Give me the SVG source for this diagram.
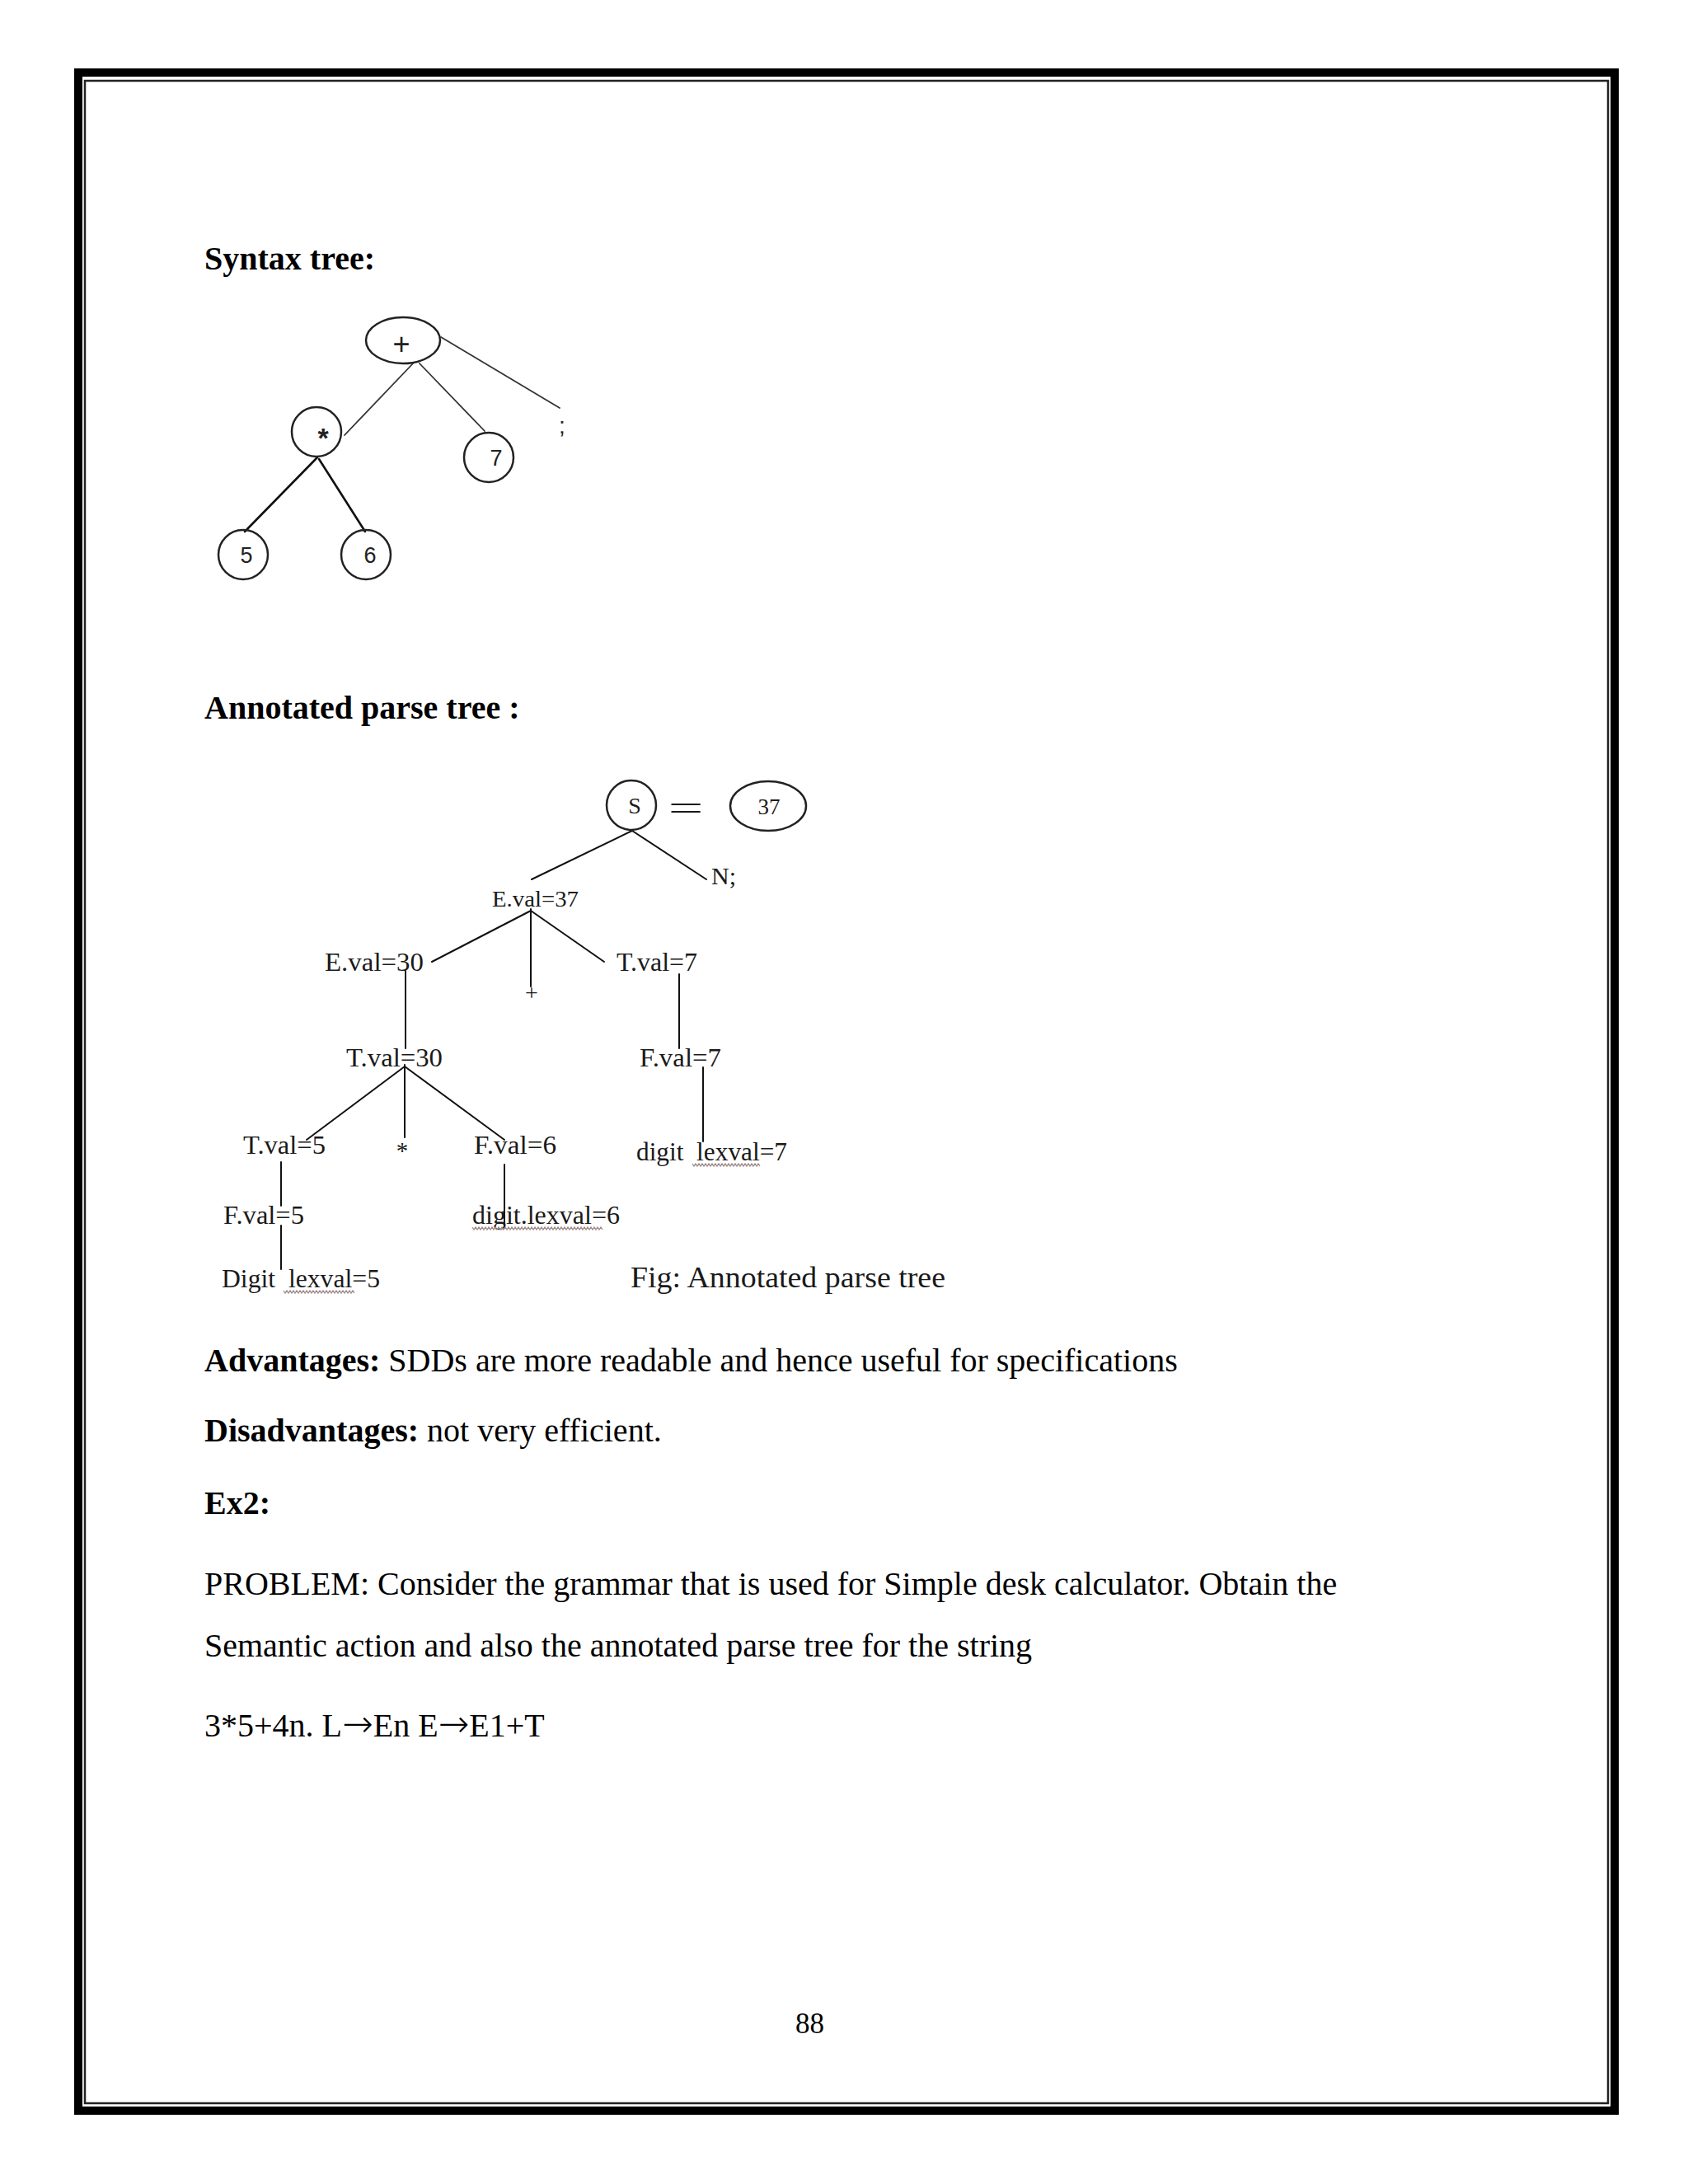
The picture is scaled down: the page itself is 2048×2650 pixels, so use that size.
<svg xmlns="http://www.w3.org/2000/svg" width="2048" height="2650" viewBox="0 0 2048 2650">
<style>
.body{font-family:"Liberation Serif","Times New Roman",serif;font-size:40px;fill:#000}
.b{font-weight:bold}
.arr{font-family:"DejaVu Sans",sans-serif;font-size:45px;font-weight:200}
.lab{font-family:"Liberation Serif","Times New Roman",serif;font-size:31px;fill:#1a1a1a}
.dig{font-family:"Liberation Sans",Arial,sans-serif;font-size:27px;fill:#222}
.node{fill:none;stroke:#222;stroke-width:2.5}
.edge{stroke:#111;stroke-width:2;fill:none;stroke-linecap:round}
.thin{stroke:#333;stroke-width:1.8}
.sq{fill:none;stroke:#a08a8a;stroke-width:1.3}
</style>
<rect x="0" y="0" width="2048" height="2650" fill="#fff"/>
<g id="border">
<rect x="95" y="88" width="1864" height="2473" fill="none" stroke="#000" stroke-width="10"/>
<rect x="103" y="98" width="1848" height="2454" fill="none" stroke="#222" stroke-width="2.5"/>
</g>
<g id="text">
<text class="body b" x="248" y="327">Syntax tree:</text>
<text class="body b" x="248" y="872">Annotated parse tree :</text>
<text class="body" x="248" y="1664"><tspan class="b">Advantages:</tspan> SDDs are more readable and hence useful for specifications</text>
<text class="body" x="248" y="1749"><tspan class="b">Disadvantages:</tspan> not very efficient.</text>
<text class="body b" x="248" y="1837">Ex2:</text>
<text class="body" x="248" y="1935">PROBLEM: Consider the grammar that is used for Simple desk calculator. Obtain the</text>
<text class="body" x="248" y="2010">Semantic action and also the annotated parse tree for the string</text>
<text class="body" x="248" y="2107">3*5+4n. L<tspan class="arr">→</tspan>En E<tspan class="arr">→</tspan>E1+T</text>
<text class="body" x="965" y="2467" style="font-size:35px">88</text>
</g>
<g id="connectors">
<line class="edge thin" x1="502" y1="440" x2="418" y2="528"/>
<line class="edge thin" x1="509" y1="441" x2="588" y2="523"/>
<line class="edge thin" x1="535" y1="409" x2="679" y2="495"/>
<line class="edge" style="stroke-width:2.6" x1="385" y1="555" x2="297" y2="645"/>
<line class="edge" style="stroke-width:2.6" x1="387" y1="557" x2="443" y2="645"/>
<line class="edge" x1="767" y1="1008" x2="645" y2="1067"/>
<line class="edge" x1="767" y1="1008" x2="857" y2="1067"/>
<line class="edge" x1="644" y1="1105" x2="524" y2="1167"/>
<line class="edge" x1="644" y1="1103" x2="644" y2="1197"/>
<line class="edge" x1="644" y1="1105" x2="733" y2="1167"/>
<line class="edge" x1="492" y1="1178" x2="492" y2="1272"/>
<line class="edge" x1="824" y1="1182" x2="824" y2="1272"/>
<line class="edge" x1="491" y1="1294" x2="372" y2="1383"/>
<line class="edge" x1="491" y1="1292" x2="491" y2="1380"/>
<line class="edge" x1="491" y1="1294" x2="612" y2="1383"/>
<line class="edge" x1="853" y1="1295" x2="853" y2="1385"/>
<line class="edge" x1="341" y1="1410" x2="341" y2="1463"/>
<line class="edge" x1="612" y1="1413" x2="612" y2="1490"/>
<line class="edge" x1="341" y1="1487" x2="341" y2="1540"/>
</g>
<g id="syntax-tree">
<g id="st-plus"><ellipse class="node" cx="489" cy="413" rx="45" ry="28"/><text class="dig" x="487" y="430" text-anchor="middle" style="font-size:36px">+</text></g>
<g id="st-times"><circle class="node" cx="384" cy="524" r="30"/><text class="dig b" x="392" y="543" text-anchor="middle" style="font-size:34px">*</text></g>
<g id="st-7"><circle class="node" cx="593" cy="555" r="30"/><text class="dig" x="602" y="565" text-anchor="middle">7</text></g>
<g id="st-5"><circle class="node" cx="295" cy="673" r="30"/><text class="dig" x="299" y="683" text-anchor="middle">5</text></g>
<g id="st-6"><circle class="node" cx="444" cy="673" r="30"/><text class="dig" x="449" y="683" text-anchor="middle">6</text></g>
<g id="st-semi"><text class="dig" x="682" y="526" text-anchor="middle" style="font-size:28px">;</text></g>
</g>
<g id="annotated-tree">
<g id="n-S"><circle class="node" cx="766" cy="977" r="30"/><text class="lab" x="770" y="987" text-anchor="middle" style="font-size:28px">S</text></g>
<g id="n-eq"><text class="lab" transform="translate(832,994) scale(1.8,1)" text-anchor="middle" style="font-size:42px">=</text></g>
<g id="n-37"><ellipse class="node" cx="932" cy="978" rx="46" ry="30"/><text class="lab" x="933" y="988" text-anchor="middle" style="font-size:27px">37</text></g>
<g id="n-N"><text class="lab" x="863" y="1073" style="font-size:30px">N;</text></g>
<g id="n-E37"><text class="lab" x="597" y="1100" textLength="105" lengthAdjust="spacingAndGlyphs" style="font-size:28px">E.val=37</text></g>
<g id="n-E30"><text class="lab" x="394" y="1178" textLength="120" lengthAdjust="spacingAndGlyphs">E.val=30</text></g>
<g id="n-plus"><text class="lab" x="645" y="1214" text-anchor="middle" style="font-size:28px">+</text></g>
<g id="n-T7"><text class="lab" x="748" y="1178" textLength="98" lengthAdjust="spacingAndGlyphs">T.val=7</text></g>
<g id="n-T30"><text class="lab" x="420" y="1294" textLength="117" lengthAdjust="spacingAndGlyphs">T.val=30</text></g>
<g id="n-F7"><text class="lab" x="776" y="1294" textLength="99" lengthAdjust="spacingAndGlyphs">F.val=7</text></g>
<g id="n-T5"><text class="lab" x="295" y="1400" textLength="100" lengthAdjust="spacingAndGlyphs">T.val=5</text></g>
<g id="n-star"><text class="lab" x="488" y="1406" text-anchor="middle" style="font-size:29px">*</text></g>
<g id="n-F6"><text class="lab" x="575" y="1400" textLength="100" lengthAdjust="spacingAndGlyphs">F.val=6</text></g>
<g id="n-d7"><text class="lab" x="772" y="1408" textLength="183" lengthAdjust="spacingAndGlyphs" xml:space="preserve">digit  lexval=7</text>
<path class="sq" d="M840 1412 l2 3 l2 -3 l2 3 l2 -3 l2 3 l2 -3 l2 3 l2 -3 l2 3 l2 -3 l2 3 l2 -3 l2 3 l2 -3 l2 3 l2 -3 l2 3 l2 -3 l2 3 l2 -3 l2 3 l2 -3 l2 3 l2 -3 l2 3 l2 -3 l2 3 l2 -3 l2 3 l2 -3 l2 3 l2 -3 l2 3 l2 -3 l2 3 l2 -3 l2 3 l2 -3 l2 3 l2 -3 l2 3"/></g>
<g id="n-F5"><text class="lab" x="271" y="1485" textLength="98" lengthAdjust="spacingAndGlyphs">F.val=5</text></g>
<g id="n-d6"><text class="lab" x="573" y="1485" textLength="179" lengthAdjust="spacingAndGlyphs">digit.lexval=6</text>
<path class="sq" d="M573 1489 l2 3 l2 -3 l2 3 l2 -3 l2 3 l2 -3 l2 3 l2 -3 l2 3 l2 -3 l2 3 l2 -3 l2 3 l2 -3 l2 3 l2 -3 l2 3 l2 -3 l2 3 l2 -3 l2 3 l2 -3 l2 3 l2 -3 l2 3 l2 -3 l2 3 l2 -3 l2 3 l2 -3 l2 3 l2 -3 l2 3 l2 -3 l2 3 l2 -3 l2 3 l2 -3 l2 3 l2 -3 l2 3 l2 -3 l2 3 l2 -3 l2 3 l2 -3 l2 3 l2 -3 l2 3 l2 -3 l2 3 l2 -3 l2 3 l2 -3 l2 3 l2 -3 l2 3 l2 -3 l2 3 l2 -3 l2 3 l2 -3 l2 3 l2 -3 l2 3 l2 -3 l2 3 l2 -3 l2 3 l2 -3 l2 3 l2 -3 l2 3 l2 -3 l2 3 l2 -3 l2 3 l2 -3 l2 3"/></g>
<g id="n-d5"><text class="lab" x="269" y="1562" textLength="192" lengthAdjust="spacingAndGlyphs" xml:space="preserve">Digit  lexval=5</text>
<path class="sq" d="M344 1566 l2 3 l2 -3 l2 3 l2 -3 l2 3 l2 -3 l2 3 l2 -3 l2 3 l2 -3 l2 3 l2 -3 l2 3 l2 -3 l2 3 l2 -3 l2 3 l2 -3 l2 3 l2 -3 l2 3 l2 -3 l2 3 l2 -3 l2 3 l2 -3 l2 3 l2 -3 l2 3 l2 -3 l2 3 l2 -3 l2 3 l2 -3 l2 3 l2 -3 l2 3 l2 -3 l2 3 l2 -3 l2 3 l2 -3 l2 3"/></g>
<g id="caption"><text class="lab" x="765" y="1562" textLength="382" lengthAdjust="spacingAndGlyphs" style="font-size:36px">Fig: Annotated parse tree</text></g>
</g>
</svg>
